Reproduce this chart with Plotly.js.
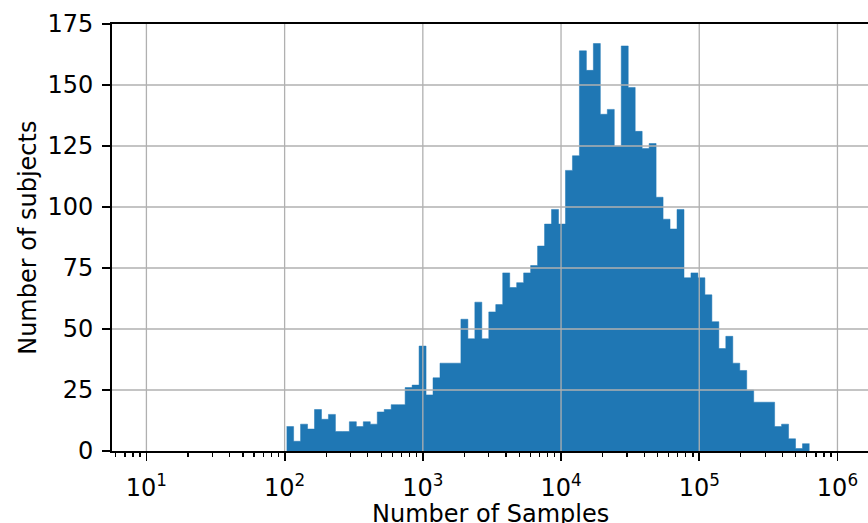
<!DOCTYPE html>
<html>
<head>
<meta charset="utf-8">
<script src="https://cdn.plot.ly/plotly-3.0.1.min.js"></script>
<style>
html,body{margin:0;padding:0;background:#ffffff;}
#chart{width:868px;height:523px;}
</style>
</head>
<body>
<div id="chart"></div>
<script>
// ---- data ----
// histogram bin range (log10 of number of samples), 75 equal-width log bins
const binLogStart = 2.0145;
const binLogEnd = 5.7975;
// number of subjects per bin
const counts = [
  10, 4, 11, 9, 17, 13, 15, 8, 8, 12,
  10, 12, 11, 16, 17, 19, 19, 26, 27, 43,
  23, 30, 36, 36, 36, 54, 46, 61, 46, 57,
  60, 73, 67, 69, 73, 76, 84, 93, 99, 93,
  115, 121, 164, 156, 167, 138, 140, 125, 166, 149,
  131, 124, 126, 104, 95, 91, 99, 71, 73, 71,
  64, 53, 42, 47, 36, 33, 25, 20, 20, 20,
  10, 11, 5, 1, 3
];
const xTickExponents = [1, 2, 3, 4, 5, 6];
const yTickValues = [0, 25, 50, 75, 100, 125, 150, 175];
const xTitle = "Number of Samples";
const yTitle = "Number of subjects";

// ---- build traces ----
const xLogRange = [0.751, 6.221];
const nBins = counts.length;
const binStep = (binLogEnd - binLogStart) / nBins;
const edges = [];
for (let i = 0; i <= nBins; i++) edges.push(Math.pow(10, binLogStart + i * binStep));
const stepY = counts.concat([counts[nBins - 1]]);

const xTickVals = xTickExponents.map(e => Math.pow(10, e));
const xTickText = xTickExponents.map(e => '10<sup>' + e + '</sup>');
const minorVals = [];
for (let e = 0; e <= 6; e++) for (let k = 2; k <= 9; k++) minorVals.push(k * Math.pow(10, e));

const gridColor = '#b0b0b0';
const gridW = 1.3;
const shapes = [];
// grid drawn above the bars, as in the reference
xTickExponents.forEach(e => {
  const fx = (e - xLogRange[0]) / (xLogRange[1] - xLogRange[0]);
  shapes.push({
    type: 'line', layer: 'above', xref: 'paper', yref: 'paper', x0: fx, x1: fx, y0: 0, y1: 1,
    line: {color: gridColor, width: gridW}
  });
});
yTickValues.filter(v => v > 0 && v < 175).forEach(v => shapes.push({
  type: 'line', layer: 'above', xref: 'paper', yref: 'y', x0: 0, x1: 1, y0: v, y1: v,
  line: {color: gridColor, width: gridW}
}));

const trace = {
  type: 'scatter', mode: 'lines',
  x: edges, y: stepY,
  line: {shape: 'hv', color: '#1f77b4', width: 0.5},
  fill: 'tozeroy', fillcolor: '#1f77b4',
  hoverinfo: 'skip', showlegend: false
};

const font = {family: 'DejaVu Sans', size: 24, color: '#000000'};

const layout = {
  width: 868, height: 523,
  margin: {l: 112, r: 0, t: 24, b: 72, pad: 0},
  paper_bgcolor: '#ffffff', plot_bgcolor: '#ffffff',
  showlegend: false,
  font: font,
  xaxis: {
    type: 'log', range: xLogRange, autorange: false,
    showline: true, linecolor: '#000000', linewidth: 1.8, mirror: true, layer: 'above traces',
    ticks: 'outside', ticklen: 8, tickwidth: 1.8, tickcolor: '#000000',
    tickmode: 'array', tickvals: xTickVals, ticktext: xTickText, ticklabelstandoff: 6,
    tickfont: font, showgrid: false, zeroline: false,
    minor: {tickmode: 'array', tickvals: minorVals, ticks: 'outside', ticklen: 4.5,
            tickwidth: 1.3, tickcolor: '#000000', showgrid: false}
  },
  yaxis: {
    range: [0, 175], autorange: false,
    showline: true, linecolor: '#000000', linewidth: 1.8, mirror: false, layer: 'above traces',
    ticks: 'outside', ticklen: 8, tickwidth: 1.8, tickcolor: '#000000',
    tickmode: 'array', tickvals: yTickValues, ticklabelstandoff: 4,
    tickfont: font, showgrid: false, zeroline: false
  },
  shapes: shapes,
  annotations: [
    {text: xTitle, xref: 'paper', yref: 'paper', x: 0.5, y: -0.148, xanchor: 'center', yanchor: 'middle',
     showarrow: false, font: font},
    {text: yTitle, xref: 'paper', yref: 'paper', x: -0.112, y: 0.5, xanchor: 'center', yanchor: 'middle',
     textangle: -90, showarrow: false, font: font}
  ]
};

Plotly.newPlot('chart', [trace], layout, {displayModeBar: false, staticPlot: true});
</script>
</body>
</html>
